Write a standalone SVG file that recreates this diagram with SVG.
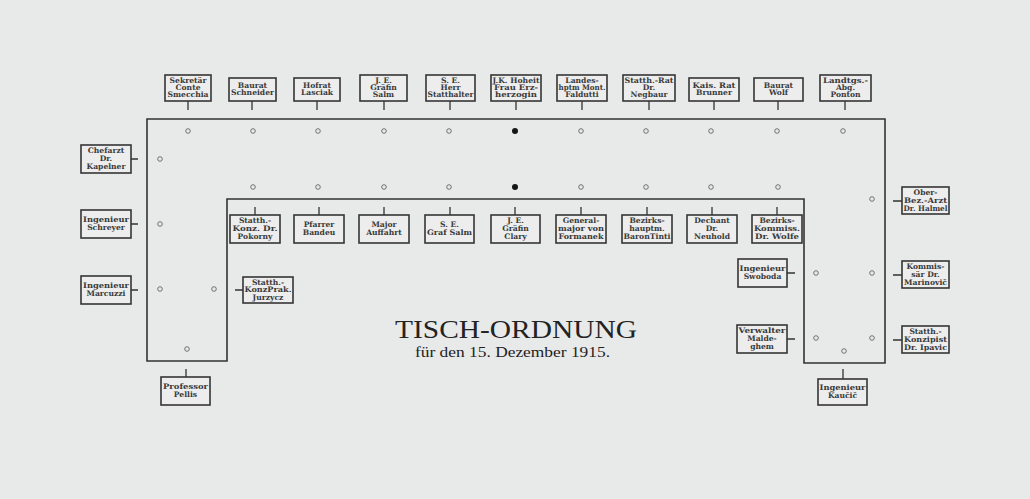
<svg xmlns="http://www.w3.org/2000/svg" width="1030" height="499" viewBox="0 0 1030 499">
<style>
.bg{fill:#e8e9e9}
.bx{fill:#ecedec;stroke:#353535;stroke-width:1.6}
.t{font-family:"DejaVu Serif",serif;font-weight:bold;font-size:7.6px;fill:#3a3a3a;text-anchor:middle}
.ln{stroke:#333;stroke-width:1.3;fill:none}
.tbl{fill:none;stroke:#333;stroke-width:1.6}
.s{fill:none;stroke:#555;stroke-width:0.8}
.sf{fill:#151515}
.title{font-family:"Liberation Serif",serif;fill:#222;text-anchor:middle}
</style>
<rect class="bg" x="0" y="0" width="1030" height="499"/>
<g id="table">
<path class="tbl" d="M147,119 H885 V363 H804 V199 H227 V361 H147 Z"/>
</g>
<g id="seats">
<circle class="s" cx="188" cy="131" r="2.3"/><circle class="s" cx="253" cy="131" r="2.3"/><circle class="s" cx="318" cy="131" r="2.3"/><circle class="s" cx="384" cy="131" r="2.3"/><circle class="s" cx="449" cy="131" r="2.3"/><circle class="sf" cx="515" cy="131" r="3"/><circle class="s" cx="581" cy="131" r="2.3"/><circle class="s" cx="646" cy="131" r="2.3"/><circle class="s" cx="711" cy="131" r="2.3"/><circle class="s" cx="777" cy="131" r="2.3"/><circle class="s" cx="843" cy="131" r="2.3"/>
<circle class="s" cx="253" cy="187" r="2.3"/><circle class="s" cx="318" cy="187" r="2.3"/><circle class="s" cx="384" cy="187" r="2.3"/><circle class="s" cx="449" cy="187" r="2.3"/><circle class="sf" cx="515" cy="187" r="3"/><circle class="s" cx="581" cy="187" r="2.3"/><circle class="s" cx="646" cy="187" r="2.3"/><circle class="s" cx="711" cy="187" r="2.3"/><circle class="s" cx="778" cy="187" r="2.3"/>
<circle class="s" cx="160" cy="159" r="2.3"/><circle class="s" cx="160" cy="224" r="2.3"/><circle class="s" cx="160" cy="289" r="2.3"/><circle class="s" cx="214" cy="289" r="2.3"/><circle class="s" cx="187" cy="349" r="2.3"/>
<circle class="s" cx="872" cy="199" r="2.3"/><circle class="s" cx="872" cy="273" r="2.3"/><circle class="s" cx="872" cy="338" r="2.3"/><circle class="s" cx="816" cy="273" r="2.3"/><circle class="s" cx="816" cy="338" r="2.3"/><circle class="s" cx="844" cy="351" r="2.3"/>
</g>
<g id="connectors">
<path class="ln" d="M188,101V110 M252,101V110 M317,101V110 M384,101V110 M450,101V110 M516,101V110 M582,101V110 M649,101V110 M714,101V110 M778,101V110 M845,101V110"/>
<path class="ln" d="M131,159H138 M131,224H138 M131,290H138 M186,369V377"/>
<path class="ln" d="M255,207V215 M319,207V215 M384,207V215 M450,207V215 M515,207V215 M581,207V215 M647,207V215 M712,207V215 M777,207V215"/>
<path class="ln" d="M235,290H243 M787,273H795 M787,339H795 M893,201H902 M893,275H902 M893,340H902 M843,369V379"/>
</g>
<g id="n-smecchia"><rect class="bx" x="165" y="75" width="46" height="26"/><text class="t" x="188" y="82.8">Sekretär</text><text class="t" x="188" y="90.1">Conte</text><text class="t" x="188" y="97.4" textLength="41" lengthAdjust="spacingAndGlyphs">Smecchia</text></g>
<g id="n-schneider"><rect class="bx" x="229" y="78" width="47" height="23"/><text class="t" x="252.5" y="87.6">Baurat</text><text class="t" x="252.5" y="95" textLength="43" lengthAdjust="spacingAndGlyphs">Schneider</text></g>
<g id="n-lasciak"><rect class="bx" x="294" y="78" width="46" height="23"/><text class="t" x="317" y="87.6">Hofrat</text><text class="t" x="317" y="95">Lasciak</text></g>
<g id="n-salm"><rect class="bx" x="360" y="75" width="47" height="26"/><text class="t" x="383.5" y="82.8">J. E.</text><text class="t" x="383.5" y="90.1">Gräfin</text><text class="t" x="383.5" y="97.4">Salm</text></g>
<g id="n-statthalter"><rect class="bx" x="426" y="75" width="49" height="26"/><text class="t" x="450.5" y="82.8">S. E.</text><text class="t" x="450.5" y="90.1">Herr</text><text class="t" x="450.5" y="97.4" textLength="46" lengthAdjust="spacingAndGlyphs">Statthalter</text></g>
<g id="n-erzherzogin"><rect class="bx" x="491" y="75" width="50" height="26"/><text class="t" x="516" y="82.8" textLength="47" lengthAdjust="spacingAndGlyphs">J.K. Hoheit</text><text class="t" x="516" y="90.1" textLength="44" lengthAdjust="spacingAndGlyphs">Frau Erz-</text><text class="t" x="516" y="97.4" textLength="42" lengthAdjust="spacingAndGlyphs">herzogin</text></g>
<g id="n-faldutti"><rect class="bx" x="557" y="75" width="50" height="26"/><text class="t" x="582" y="82.8">Landes-</text><text class="t" x="582" y="90.1" textLength="47" lengthAdjust="spacingAndGlyphs">hptm Mont.</text><text class="t" x="582" y="97.4">Faldutti</text></g>
<g id="n-negbaur"><rect class="bx" x="623" y="75" width="52" height="26"/><text class="t" x="649" y="82.8" textLength="49" lengthAdjust="spacingAndGlyphs">Statth.-Rat</text><text class="t" x="649" y="90.1">Dr.</text><text class="t" x="649" y="97.4">Negbaur</text></g>
<g id="n-brunner"><rect class="bx" x="689" y="78" width="50" height="23"/><text class="t" x="714" y="87.6" textLength="43" lengthAdjust="spacingAndGlyphs">Kais. Rat</text><text class="t" x="714" y="95">Brunner</text></g>
<g id="n-wolf"><rect class="bx" x="754" y="78" width="49" height="23"/><text class="t" x="778.5" y="87.6">Baurat</text><text class="t" x="778.5" y="95">Wolf</text></g>
<g id="n-ponton"><rect class="bx" x="820" y="75" width="51" height="26"/><text class="t" x="845.5" y="82.8" textLength="45" lengthAdjust="spacingAndGlyphs">Landtgs.-</text><text class="t" x="845.5" y="90.1">Abg.</text><text class="t" x="845.5" y="97.4">Ponton</text></g>
<g id="n-kapelner"><rect class="bx" x="81" y="145" width="50" height="28"/><text class="t" x="106" y="153.4">Chefarzt</text><text class="t" x="106" y="161.4">Dr.</text><text class="t" x="106" y="169.4">Kapelner</text></g>
<g id="n-schreyer"><rect class="bx" x="81" y="210" width="50" height="28"/><text class="t" x="106" y="222.4" textLength="46" lengthAdjust="spacingAndGlyphs">Ingenieur</text><text class="t" x="106" y="230.4">Schreyer</text></g>
<g id="n-marcuzzi"><rect class="bx" x="81" y="276" width="50" height="28"/><text class="t" x="106" y="288.4" textLength="46" lengthAdjust="spacingAndGlyphs">Ingenieur</text><text class="t" x="106" y="296.4">Marcuzzi</text></g>
<g id="n-pellis"><rect class="bx" x="161" y="377" width="49" height="28"/><text class="t" x="185.5" y="389.4" textLength="45" lengthAdjust="spacingAndGlyphs">Professor</text><text class="t" x="185.5" y="397.4">Pellis</text></g>
<g id="n-pokorny"><rect class="bx" x="230" y="215" width="50" height="28"/><text class="t" x="255" y="223.4">Statth.-</text><text class="t" x="255" y="231.4" textLength="45" lengthAdjust="spacingAndGlyphs">Konz. Dr.</text><text class="t" x="255" y="239.4">Pokorny</text></g>
<g id="n-bandeu"><rect class="bx" x="294" y="215" width="50" height="28"/><text class="t" x="319" y="227">Pfarrer</text><text class="t" x="319" y="234.5">Bandeu</text></g>
<g id="n-auffahrt"><rect class="bx" x="359" y="215" width="50" height="28"/><text class="t" x="384" y="227">Major</text><text class="t" x="384" y="234.5">Auffahrt</text></g>
<g id="n-grafsalm"><rect class="bx" x="425" y="215" width="49" height="28"/><text class="t" x="449.5" y="227">S. E.</text><text class="t" x="449.5" y="234.5" textLength="45" lengthAdjust="spacingAndGlyphs">Graf Salm</text></g>
<g id="n-clary"><rect class="bx" x="491" y="215" width="49" height="28"/><text class="t" x="515.5" y="223.4">J. E.</text><text class="t" x="515.5" y="231.4">Gräfin</text><text class="t" x="515.5" y="239.4">Clary</text></g>
<g id="n-formanek"><rect class="bx" x="556" y="215" width="50" height="28"/><text class="t" x="581" y="223.4">General-</text><text class="t" x="581" y="231.4" textLength="46" lengthAdjust="spacingAndGlyphs">major von</text><text class="t" x="581" y="239.4" textLength="45" lengthAdjust="spacingAndGlyphs">Formanek</text></g>
<g id="n-tinti"><rect class="bx" x="622" y="215" width="50" height="28"/><text class="t" x="647" y="223.4">Bezirks-</text><text class="t" x="647" y="231.4">hauptm.</text><text class="t" x="647" y="239.4" textLength="47" lengthAdjust="spacingAndGlyphs">BaronTinti</text></g>
<g id="n-neuhold"><rect class="bx" x="687" y="215" width="50" height="28"/><text class="t" x="712" y="223.4">Dechant</text><text class="t" x="712" y="231.4">Dr.</text><text class="t" x="712" y="239.4">Neuhold</text></g>
<g id="n-wolfe"><rect class="bx" x="752" y="215" width="50" height="28"/><text class="t" x="777" y="223.4">Bezirks-</text><text class="t" x="777" y="231.4" textLength="46" lengthAdjust="spacingAndGlyphs">Kommiss.</text><text class="t" x="777" y="239.4" textLength="44" lengthAdjust="spacingAndGlyphs">Dr. Wolfe</text></g>
<g id="n-jurzycz"><rect class="bx" x="243" y="277" width="50" height="26"/><text class="t" x="268" y="284.9">Statth.-</text><text class="t" x="268" y="292.4" textLength="47" lengthAdjust="spacingAndGlyphs">KonzPrak.</text><text class="t" x="268" y="299.9">Jurzycz</text></g>
<g id="n-swoboda"><rect class="bx" x="738" y="259" width="49" height="28"/><text class="t" x="762.5" y="271.4" textLength="46" lengthAdjust="spacingAndGlyphs">Ingenieur</text><text class="t" x="762.5" y="279.4">Swoboda</text></g>
<g id="n-maldeghem"><rect class="bx" x="737" y="325" width="50" height="28"/><text class="t" x="762" y="333.4" textLength="47" lengthAdjust="spacingAndGlyphs">Verwalter</text><text class="t" x="762" y="341.4">Malde-</text><text class="t" x="762" y="349.4">ghem</text></g>
<g id="n-halmel"><rect class="bx" x="902" y="187" width="47" height="27"/><text class="t" x="925.5" y="195.1">Ober-</text><text class="t" x="925.5" y="202.9" textLength="43" lengthAdjust="spacingAndGlyphs">Bez.-Arzt</text><text class="t" x="925.5" y="210.7" textLength="44" lengthAdjust="spacingAndGlyphs">Dr. Halmel</text></g>
<g id="n-marinovic"><rect class="bx" x="902" y="261" width="47" height="27"/><text class="t" x="925.5" y="269.1">Kommis-</text><text class="t" x="925.5" y="276.9">sär Dr.</text><text class="t" x="925.5" y="284.7" textLength="43" lengthAdjust="spacingAndGlyphs">Marinovič</text></g>
<g id="n-ipavic"><rect class="bx" x="902" y="326" width="47" height="27"/><text class="t" x="925.5" y="334.1">Statth.-</text><text class="t" x="925.5" y="341.9" textLength="43" lengthAdjust="spacingAndGlyphs">Konzipist</text><text class="t" x="925.5" y="349.7" textLength="43" lengthAdjust="spacingAndGlyphs">Dr. Ipavic</text></g>
<g id="n-kaucic"><rect class="bx" x="818" y="379" width="49" height="26"/><text class="t" x="842.5" y="390.4" textLength="46" lengthAdjust="spacingAndGlyphs">Ingenieur</text><text class="t" x="842.5" y="398.4">Kaučič</text></g>
<g id="title">
<text class="title" x="516" y="338" font-size="26" textLength="242" lengthAdjust="spacingAndGlyphs">TISCH-ORDNUNG</text>
<text class="title" x="512.5" y="357" font-size="14" textLength="195" lengthAdjust="spacingAndGlyphs">für den 15. Dezember 1915.</text>
</g>
</svg>
